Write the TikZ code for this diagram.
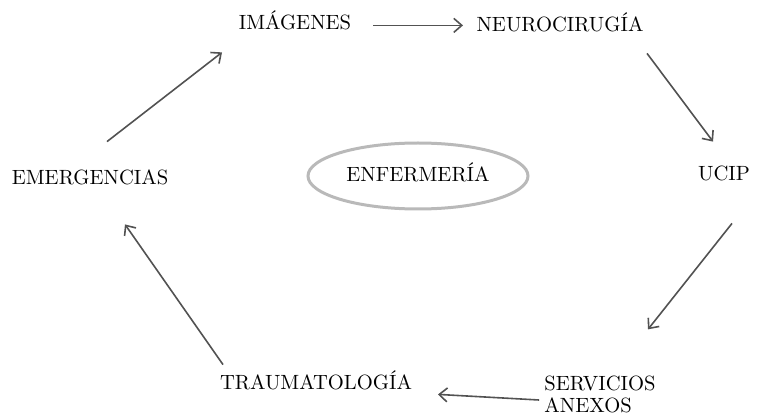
\documentclass[tikz,border=0pt]{standalone}
\usepackage{tikz}
\usetikzlibrary{arrows.meta,shapes.geometric}
\tikzset{
area/.style = {inner sep=0pt, text height=7pt, text depth=0pt, font=\fontsize{10.3}{12}\selectfont},
hub/.style = {draw=gray!55, line width=1.5pt, ellipse, minimum width=110pt, minimum height=33pt, inner sep=0pt},
flow/.style = {->, draw=black!68, line width=0.8pt},
}
\begin{document}
\begin{tikzpicture}[x=0.5pt, y=-0.5pt, >={Straight Barb[length=4pt,width=7pt]}]
    \useasboundingbox (0,0) rectangle (758,416);
    \node [hub] (enf) at (418,176) {};
    \node [area] (enflabel) at (418,175) {ENFERMERÍA};
    \node [area] (img) at (295,23) {IMÁGENES};
    \node [area] (neuro) at (560,25) {NEUROCIRUGÍA};
    \node [area] (ucip) at (724,174) {UCIP};
    \node [area, align=left, text height=, inner sep=0pt] (serv) at (600,394) {SERVICIOS\\[-1pt]ANEXOS};
    \node [area] (trauma) at (316,382) {TRAUMATOLOGÍA};
    \node [area] (emerg) at (90,178) {EMERGENCIAS};
    % ciclo de servicios
    \draw [flow] ([shift={(78,-5)}]img.south) -- ([shift={(-97,-7)}]neuro.south);
    \draw [flow] ([shift={(87,21)}]neuro.south) -- ([shift={(-11,-25)}]ucip.north);
    \draw [flow] ([shift={(8,42)}]ucip.south) -- ([shift={(48,-46)}]serv.north);
    \draw [flow] ([shift={(-5,6)}]serv.west) -- ([shift={(122,5)}]trauma.south);
    \draw [flow] ([shift={(-93,-10)}]trauma.north) -- ([shift={(35,39)}]emerg.south);
    \draw [flow] ([shift={(17,-29)}]emerg.north) -- ([shift={(-73,22)}]img.south);
\end{tikzpicture}
\end{document}
